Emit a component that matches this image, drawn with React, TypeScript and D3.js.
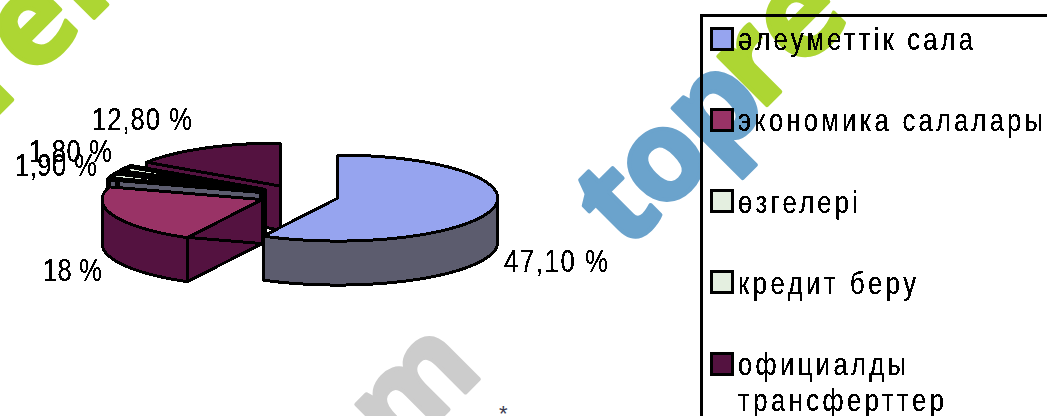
import React from "react";
import * as d3 from "d3";

const categories = ["әлеуметтік сала", "экономика салалары", "өзгелері", "кредит беру", "официалды трансферттер"];
const values = [47.1, 18, 1.9, 1.8, 12.8];
const valueLabels = ["47,10 %", "18 %", "1,90 %", "1,80 %", "12,80 %"];
const topColors = ["#96a4ef", "#993366", "#e4efe0", "#e4efe0", "#541240"];
const sideColors = ["#5c5c6e", "#541240", "#5c5c6e", "#5c5c6e", "#541240"];

// where the value labels sit: [left, baseline, width]
const labelSpots = [
  [504, 272, 104],
  [43, 281, 59],
  [15, 176, 82],
  [29, 162, 83],
  [92, 130, 100],
];

const width = 1047;
const height = 416;
const cx = 299;
const cy = 195.5;
const rx = 160;
const ry = 43;
const depth = 44;
const explode = 0.25;
const narrow = 0.8; // the reference type is tall, thin and widely spaced

type Pt = [number, number];

const line = d3.line<Pt>();

const pie = d3.pie<number>().sort(null).value((d) => d);
const slices = pie(values);

// the pie is drawn as a flattened disc, angle 0 at the top going clockwise
const project = (a: number, r = 1): Pt => [rx * r * Math.sin(a), -ry * r * Math.cos(a)];

const arcPoints = (a0: number, a1: number): Pt[] => {
  const n = Math.max(2, Math.ceil((a1 - a0) / 0.06));
  return d3.range(n + 1).map((i) => project(a0 + ((a1 - a0) * i) / n));
};

const down = (pts: Pt[]): Pt[] => pts.map(([x, y]) => [x, y + depth] as Pt);

const wall = (pts: Pt[]) => line([...pts, ...down(pts).reverse()]) + "Z";

const Slice = ({ index }: { index: number }) => {
  const s = slices[index];
  const mid = (s.startAngle + s.endAngle) / 2;
  const [ox, oy] = project(mid, explode);
  // the two thin slices are nearly swallowed by their outlines
  const thin = s.endAngle - s.startAngle < 0.2;
  const stroke = { stroke: "#000", strokeWidth: thin ? 5 : 3, strokeLinejoin: "round" as const };
  const apex: Pt = [0, 0];

  const frontStart = Math.max(s.startAngle, Math.PI / 2);
  const frontEnd = Math.min(s.endAngle, (3 * Math.PI) / 2);

  return (
    <g transform={`translate(${cx + ox},${cy + oy})`}>
      <path d={wall([apex, project(s.startAngle)])} fill={sideColors[index]} {...stroke} />
      <path d={wall([apex, project(s.endAngle)])} fill={sideColors[index]} {...stroke} />
      {frontEnd > frontStart && (
        <path d={wall(arcPoints(frontStart, frontEnd))} fill={sideColors[index]} {...stroke} />
      )}
      <path
        d={line([apex, ...arcPoints(s.startAngle, s.endAngle)]) + "Z"}
        fill={topColors[index]}
        {...stroke}
      />
    </g>
  );
};

// legend rows: text lines with their measured widths
const legendLines = [
  [{ text: categories[0], w: 235 }],
  [{ text: categories[1], w: 305 }],
  [{ text: categories[2], w: 120 }],
  [{ text: categories[3], w: 178 }],
  [
    { text: "официалды", w: 168 },
    { text: "трансферттер", w: 206 },
  ],
];

const legendY = d3.scaleLinear().domain([0, 4]).range([27, 352]);

// order the slices back to front
const drawOrder = [4, 3, 2, 1, 0];

const font = "'Liberation Sans', Arial, sans-serif";

const Squeezed = ({ x, y, w, text }: { x: number; y: number; w: number; text: string }) => (
  <text
    transform={`translate(${x},${y}) scale(${narrow},1)`}
    textLength={w / narrow}
    lengthAdjust="spacing"
  >
    {text}
  </text>
);

export default function App() {
  return (
    <svg
      width={width}
      height={height}
      viewBox={`0 0 ${width} ${height}`}
      style={{ position: "fixed", left: 0, top: 0, background: "#fff" }}
    >
      <defs>
        <filter id="hard" x="-5%" y="-20%" width="110%" height="140%">
          <feComponentTransfer>
            <feFuncA type="discrete" tableValues="0 1 1" />
          </feComponentTransfer>
        </filter>
      </defs>

      {/* watermark */}
      <g fontFamily="'Open Sans', sans-serif" fontWeight="700" fontSize={126} strokeWidth={4} strokeLinejoin="round">
        <text transform="translate(-8,120) rotate(-45)" fill="#add633" stroke="#add633">ref</text>
        <text transform="translate(626,252) rotate(-45)" fill="#6ba3cc" stroke="#6ba3cc" letterSpacing={-4}>top</text>
        <text transform="translate(760,112) rotate(-45)" fill="#add633" stroke="#add633">re</text>
        <text transform="translate(398,460) rotate(-45)" fill="#cccccc" stroke="#cccccc">m</text>
      </g>
      <text x={499} y={421} fontSize={22} fill="#3a3a50" fontFamily={font}>*</text>

      <g shapeRendering="crispEdges">
        {drawOrder.map((i) => (
          <Slice key={i} index={i} />
        ))}
      </g>

      <g filter="url(#hard)" fontFamily={font} fontSize={32} fill="#000">
        {valueLabels.map((t, i) => (
          <Squeezed key={t} x={labelSpots[i][0]} y={labelSpots[i][1]} w={labelSpots[i][2]} text={t} />
        ))}
      </g>

      {/* legend box runs off the picture on the right and at the bottom */}
      <rect x={701.5} y={15.5} width={500} height={600} fill="none" stroke="#000" strokeWidth={3} shapeRendering="crispEdges" />
      {categories.map((c, i) => (
        <rect
          key={c}
          x={711}
          y={legendY(i) + 1}
          width={21}
          height={21}
          fill={topColors[i]}
          stroke="#000"
          strokeWidth={3}
          shapeRendering="crispEdges"
        />
      ))}
      <g filter="url(#hard)" fontFamily={font} fontSize={32} fill="#000">
        {legendLines.map((rows, i) =>
          rows.map((r, j) => (
            <Squeezed key={r.text} x={738} y={legendY(i) + 23 + j * 36} w={r.w} text={r.text} />
          ))
        )}
      </g>
    </svg>
  );
}
